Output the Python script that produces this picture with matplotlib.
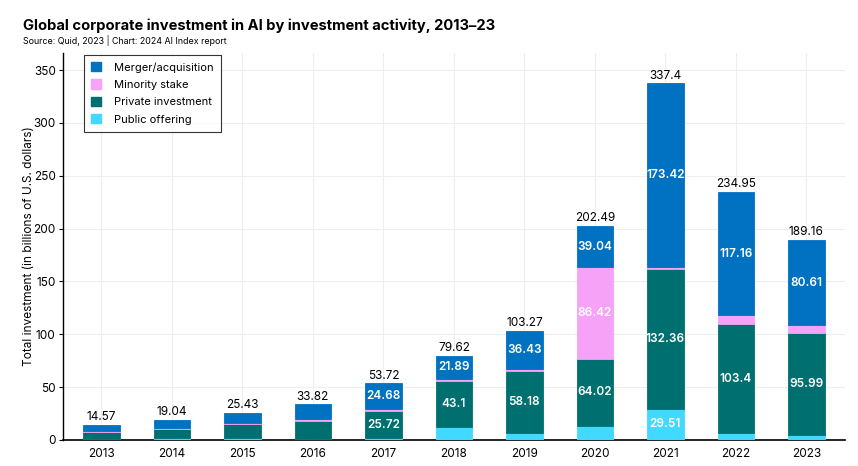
import matplotlib
matplotlib.use("Agg")
import matplotlib.pyplot as plt
import numpy as np
from matplotlib.patches import Patch

plt.rcParams['font.family'] = ['Inter', 'DejaVu Sans']

years = ["2013", "2014", "2015", "2016", "2017", "2018", "2019", "2020", "2021", "2022", "2023"]
public_offering = [1.17, 1.9, 1.43, 1.3, 1.62, 12.4, 6.6, 13.01, 29.51, 6.29, 4.76]
private_investment = [5.9, 8.8, 13.3, 16.7, 25.72, 43.1, 58.18, 64.02, 132.36, 103.4, 95.99]
minority_stake = [1.2, 1.0, 1.4, 2.0, 1.7, 2.23, 2.06, 86.42, 2.11, 8.1, 7.8]
merger_acquisition = [6.3, 7.34, 9.3, 13.82, 24.68, 21.89, 36.43, 39.04, 173.42, 117.16, 80.61]
totals = [14.57, 19.04, 25.43, 33.82, 53.72, 79.62, 103.27, 202.49, 337.4, 234.95, 189.16]

series = [
    ("Public offering", public_offering, "#41d9ff"),
    ("Private investment", private_investment, "#006f6f"),
    ("Minority stake", minority_stake, "#f5a2f7"),
    ("Merger/acquisition", merger_acquisition, "#0072c1"),
]

fig = plt.figure(figsize=(8.58, 4.66), dpi=100)
ax = fig.add_axes([0.073, 0.056, 0.912, 0.83])

x = np.arange(len(years))
bottom = np.zeros(len(years))
width = 0.52
for name, vals, color in series:
    vals = np.array(vals)
    ax.bar(x, vals, width, bottom=bottom, color=color, edgecolor=color, linewidth=0.6, zorder=3)
    for i, v in enumerate(vals):
        if v >= 20:
            ax.text(x[i], bottom[i] + v / 2, f"{v:g}", ha="center", va="center",
                    color="white", fontsize=8.5, fontweight="semibold", zorder=4)
    bottom += vals

for i, t in enumerate(totals):
    ax.text(x[i], t + 1.5, f"{t:g}", ha="center", va="bottom", color="black", fontsize=8.5, zorder=4)

ax.set_xlim(-0.55, len(years) - 0.45)
ax.set_ylim(0, 366)
ax.set_xticks(x)
ax.set_xticklabels(years, fontsize=8.5)
ax.set_yticks(np.arange(0, 351, 50))
ax.tick_params(axis='y', labelsize=8.5, length=3, width=0.8, pad=2)
ax.tick_params(axis='x', length=0, pad=6)
ax.grid(True, color="#eeeeee", linewidth=0.8, zorder=0)
ax.set_axisbelow(True)
for s in ["top", "right"]:
    ax.spines[s].set_visible(False)
ax.spines["left"].set_linewidth(1.0)
ax.spines["bottom"].set_linewidth(1.2)
ax.set_ylabel("Total investment (in billions of U.S. dollars)", fontsize=8.5, labelpad=-1)

handles = [Patch(facecolor=c, edgecolor=c, label=n) for n, _, c in series[::-1]]
leg = ax.legend(handles=handles, loc="upper left", bbox_to_anchor=(0.02, 1.01), fontsize=8,
                frameon=True, fancybox=False, edgecolor="black", handlelength=0.9,
                handleheight=0.9, handletextpad=1.2, borderpad=0.65, labelspacing=0.62)
leg.get_frame().set_linewidth(0.8)

fig.text(0.027, 0.935, "Global corporate investment in AI by investment activity, 2013–23",
         fontsize=10.6, fontweight="bold", ha="left", va="baseline")
fig.text(0.027, 0.905, "Source: Quid, 2023 | Chart: 2024 AI Index report",
         fontsize=6.4, ha="left", va="baseline")

fig.savefig("out.png", dpi=100)
